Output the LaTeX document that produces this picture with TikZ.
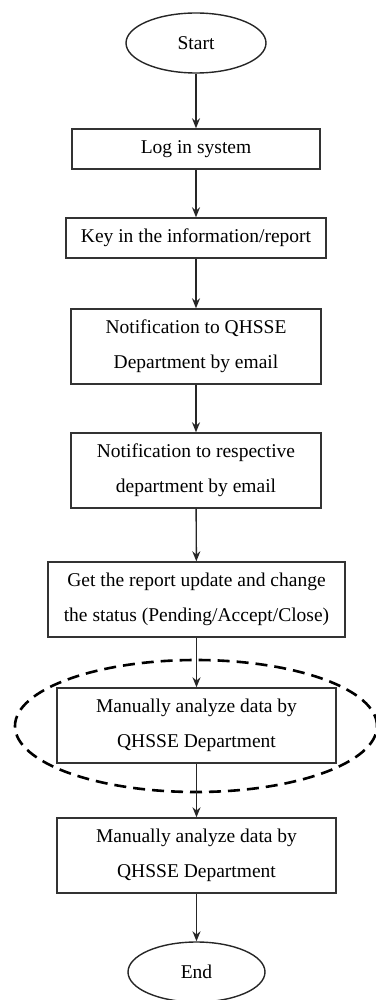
\documentclass[tikz,border=0pt]{standalone}
\usepackage{fontspec}
\setmainfont{Liberation Serif}
\usetikzlibrary{shapes.geometric,arrows.meta}
\begin{document}
\begin{tikzpicture}[x=1pt,y=-1pt,
  every node/.style={font=\fontsize{19.5}{35}\selectfont, text=black, inner sep=0pt, align=center},
  boxstep/.style={draw=black!80, line width=1.4pt, rectangle, minimum height=#1},
  boxstep/.default=40pt,
  term/.style={draw=black!85, line width=1.4pt, ellipse, minimum width=140pt, minimum height=60pt},
  flow/.style={draw=black!85, line width=1.4pt, -{Stealth[length=10pt,width=8pt]}},
  hilite/.style={draw=black, line width=2.6pt, dash pattern=on 12pt off 7pt, ellipse}
]
\useasboundingbox (0,0) rectangle (375,1000);
\node[term] (start) at (196,43) {Start};
\node[boxstep, minimum width=248pt] (login) at (196,149) {Log in system};
\node[boxstep, minimum width=260pt] (key) at (196,238) {Key in the information/report};
\node[boxstep=75pt, minimum width=250pt] (nq) at (196,346.5) {Notification to QHSSE\\Department by email};
\node[boxstep=75pt, minimum width=250pt] (nr) at (196,470.5) {Notification to respective\\department by email};
\node[boxstep=75pt, minimum width=297pt] (get) at (196.5,599.5) {Get the report update and change\\the status (Pending/Accept/Close)};
\node[boxstep=75pt, minimum width=279pt] (man1) at (196.5,725.5) {Manually analyze data by\\QHSSE Department};
\node[boxstep=75pt, minimum width=279pt] (man2) at (196.5,855.5) {Manually analyze data by\\QHSSE Department};
\node[term, minimum width=137pt] (end) at (196.5,972) {End};
\node[hilite, minimum width=362pt, minimum height=132pt] (hl) at (196,726) {};
\draw[flow] (start) -- (login);
\draw[flow] (login) -- (key);
\draw[flow] (key) -- (nq);
\draw[flow] (nq) -- (nr);
\draw[flow] (nr) -- (get);
\draw[flow] (get.south) -- (man1.north);
\draw[flow] (man1.south) -- (man2.north);
\draw[flow] (man2) -- (end);
\end{tikzpicture}
\end{document}
